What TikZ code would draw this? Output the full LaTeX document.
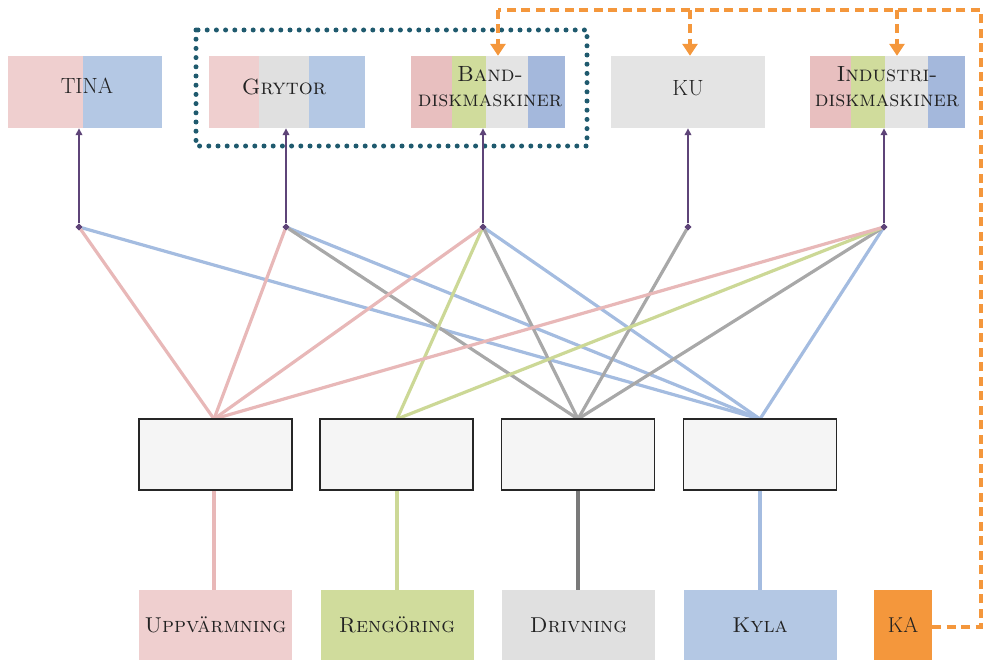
\documentclass[tikz,border=0pt]{standalone}
\usepackage{fontspec}
\usetikzlibrary{arrows.meta,shapes.geometric}
\definecolor{cpink}{HTML}{EFCFCF}
\definecolor{cpinkb}{HTML}{E8BFBF}
\definecolor{cblue}{HTML}{B4C8E4}
\definecolor{cblueb}{HTML}{A4B8DC}
\definecolor{cgrey}{HTML}{E0E0E0}
\definecolor{cgreyb}{HTML}{E4E4E4}
\definecolor{cgreen}{HTML}{D0DC9C}
\definecolor{corange}{HTML}{F4973C}
\definecolor{cteal}{HTML}{1F5A6E}
\definecolor{cpurple}{HTML}{5E4478}
\definecolor{lpink}{HTML}{E8B8B8}
\definecolor{lblue}{HTML}{A4BCE0}
\definecolor{lgrey}{HTML}{A8A8A8}
\definecolor{lgreen}{HTML}{CCD896}
\definecolor{dgrey}{HTML}{7A7A7A}
\definecolor{ctext}{HTML}{222222}
\begin{document}
\begin{tikzpicture}[x=1pt,y=-1pt,
  lbl/.style={font=\fontsize{22}{25}\selectfont, text=ctext, align=center, inner sep=0pt},
  topbox/.style={minimum width=154pt, minimum height=72pt, inner sep=0pt},
  midbox/.style={draw=black!85, line width=1.5pt, fill=black!4, minimum width=153pt, minimum height=71pt, inner sep=0pt},
  botbox/.style={minimum width=153pt, minimum height=70pt, inner sep=0pt, font=\fontsize{21.5}{25}\selectfont, text=ctext},
  jn/.style={diamond, fill=cpurple, inner sep=0pt, minimum size=7pt},
  uparrow/.style={draw=cpurple, line width=1.8pt, -{Triangle[length=7pt,width=6.5pt]}},
  conn/.style={line width=3.2pt},
  kaline/.style={draw=corange, line width=3.4pt, dash pattern=on 9pt off 5.5pt},
  kaarrow/.style={draw=corange, line width=3.4pt, dash pattern=on 9pt off 5.5pt, -{Triangle[length=12pt,width=15pt]}},
]
\useasboundingbox (0,0) rectangle (987,661);

% ---------- top boxes: stripes ----------
\fill[cpink] (8,56) rectangle (83,128);
\fill[cblue] (83,56) rectangle (162,128);
\node[topbox] (tina) at (85,92) {};
\node[lbl] at (87,86) {TINA};

\fill[cpink] (209,56) rectangle (259,128);
\fill[cgrey] (259,56) rectangle (309,128);
\fill[cblue] (309,56) rectangle (365,128);
\node[topbox] (gry) at (287,92) {};
\node[lbl] at (284,87) {\textsc{Grytor}};

\fill[cpinkb] (411,56) rectangle (452,128);
\fill[cgreen] (452,56) rectangle (486,128);
\fill[cgreyb] (486,56) rectangle (528,128);
\fill[cblueb] (528,56) rectangle (565,128);
\node[topbox] (band) at (488,92) {};
\node[lbl] at (490,87) {\textsc{Band-}\\\textsc{diskmaskiner}};

\fill[cgreyb] (611,56) rectangle (765,128);
\node[topbox] (ku) at (688,92) {};
\node[lbl] at (688,88) {KU};

\fill[cpinkb] (810,56) rectangle (851,128);
\fill[cgreen] (851,56) rectangle (885,128);
\fill[cgreyb] (885,56) rectangle (928,128);
\fill[cblueb] (928,56) rectangle (965,128);
\node[topbox] (ind) at (887,92) {};
\node[lbl] at (887,87) {\textsc{Industri-}\\\textsc{diskmaskiner}};

% ---------- dotted group ----------
\draw[cteal, line width=5pt, line cap=round, dash pattern=on 0pt off 9.2pt] (196,30) rectangle (587,146);

% ---------- junctions ----------
\node[jn] (j1) at (79,227) {};
\node[jn] (j2) at (286,227) {};
\node[jn] (j3) at (483,227) {};
\node[jn] (j4) at (688,227) {};
\node[jn] (j5) at (884,227) {};

\draw[uparrow] (j1) -- (j1 |- tina.south);
\draw[uparrow] (j2) -- (j2 |- gry.south);
\draw[uparrow] (j3) -- (j3 |- band.south);
\draw[uparrow] (j4) -- (j4 |- ku.south);
\draw[uparrow] (j5) -- (j5 |- ind.south);

% ---------- middle boxes anchors ----------
\coordinate (m1) at (214,419);
\coordinate (m2) at (397,419);
\coordinate (m3) at (578,419);
\coordinate (m4) at (760,419);

% connectors
\draw[conn, lblue] (j1) -- (m4);
\draw[conn, lblue] (j2) -- (m4);
\draw[conn, lblue] (j3) -- (m4);
\draw[conn, lblue] (j5) -- (m4);
\draw[conn, lgrey] (j2) -- (m3);
\draw[conn, lgrey] (j3) -- (m3);
\draw[conn, lgrey] (j4) -- (m3);
\draw[conn, lgrey] (j5) -- (m3);
\draw[conn, lgreen] (j3) -- (m2);
\draw[conn, lgreen] (j5) -- (m2);
\draw[conn, lpink] (j1) -- (m1);
\draw[conn, lpink] (j2) -- (m1);
\draw[conn, lpink] (j3) -- (m1);
\draw[conn, lpink] (j5) -- (m1);

% junction markers on top
\node[jn] at (j1) {};
\node[jn] at (j2) {};
\node[jn] at (j3) {};
\node[jn] at (j4) {};
\node[jn] at (j5) {};

% ---------- middle boxes ----------
\node[midbox] (b1) at (215.5,454.5) {};
\node[midbox] (b2) at (396.5,454.5) {};
\node[midbox] (b3) at (578,454.5) {};
\node[midbox] (b4) at (760,454.5) {};

% ---------- bottom boxes ----------
\node[botbox, fill=cpink] (upp) at (215.5,625) {\textsc{Uppvärmning}};
\node[botbox, fill=cgreen] (ren) at (397,625) {\textsc{Rengöring}};
\node[botbox, fill=cgrey] (dri) at (578.5,625) {\textsc{Drivning}};
\node[botbox, fill=cblue] (kyl) at (760,625) {\textsc{Kyla}};
\node[botbox, fill=corange, minimum width=58pt] (ka) at (903,625) {KA};

\draw[conn, lpink] (b1.south -| m1) -- (upp.north -| m1);
\draw[conn, lgreen] (b2.south -| m2) -- (ren.north -| m2);
\draw[conn, dgrey] (b3.south -| m3) -- (dri.north -| m3);
\draw[conn, lblue] (b4.south -| m4) -- (kyl.north -| m4);

% ---------- KA dashed feedback ----------
\coordinate (kr) at (981,627);
\coordinate (ktop) at (981,10);
\coordinate (kb) at (498,10);
\coordinate (kk) at (690,10);
\coordinate (ki) at (897,10);
\draw[kaline] (ka.east |- kr) -- (kr) -- (ktop) -- (kb);
\draw[kaarrow] (kb) -- (kb |- band.north);
\draw[kaarrow] (kk) -- (kk |- ku.north);
\draw[kaarrow] (ki) -- (ki |- ind.north);
\end{tikzpicture}
\end{document}
